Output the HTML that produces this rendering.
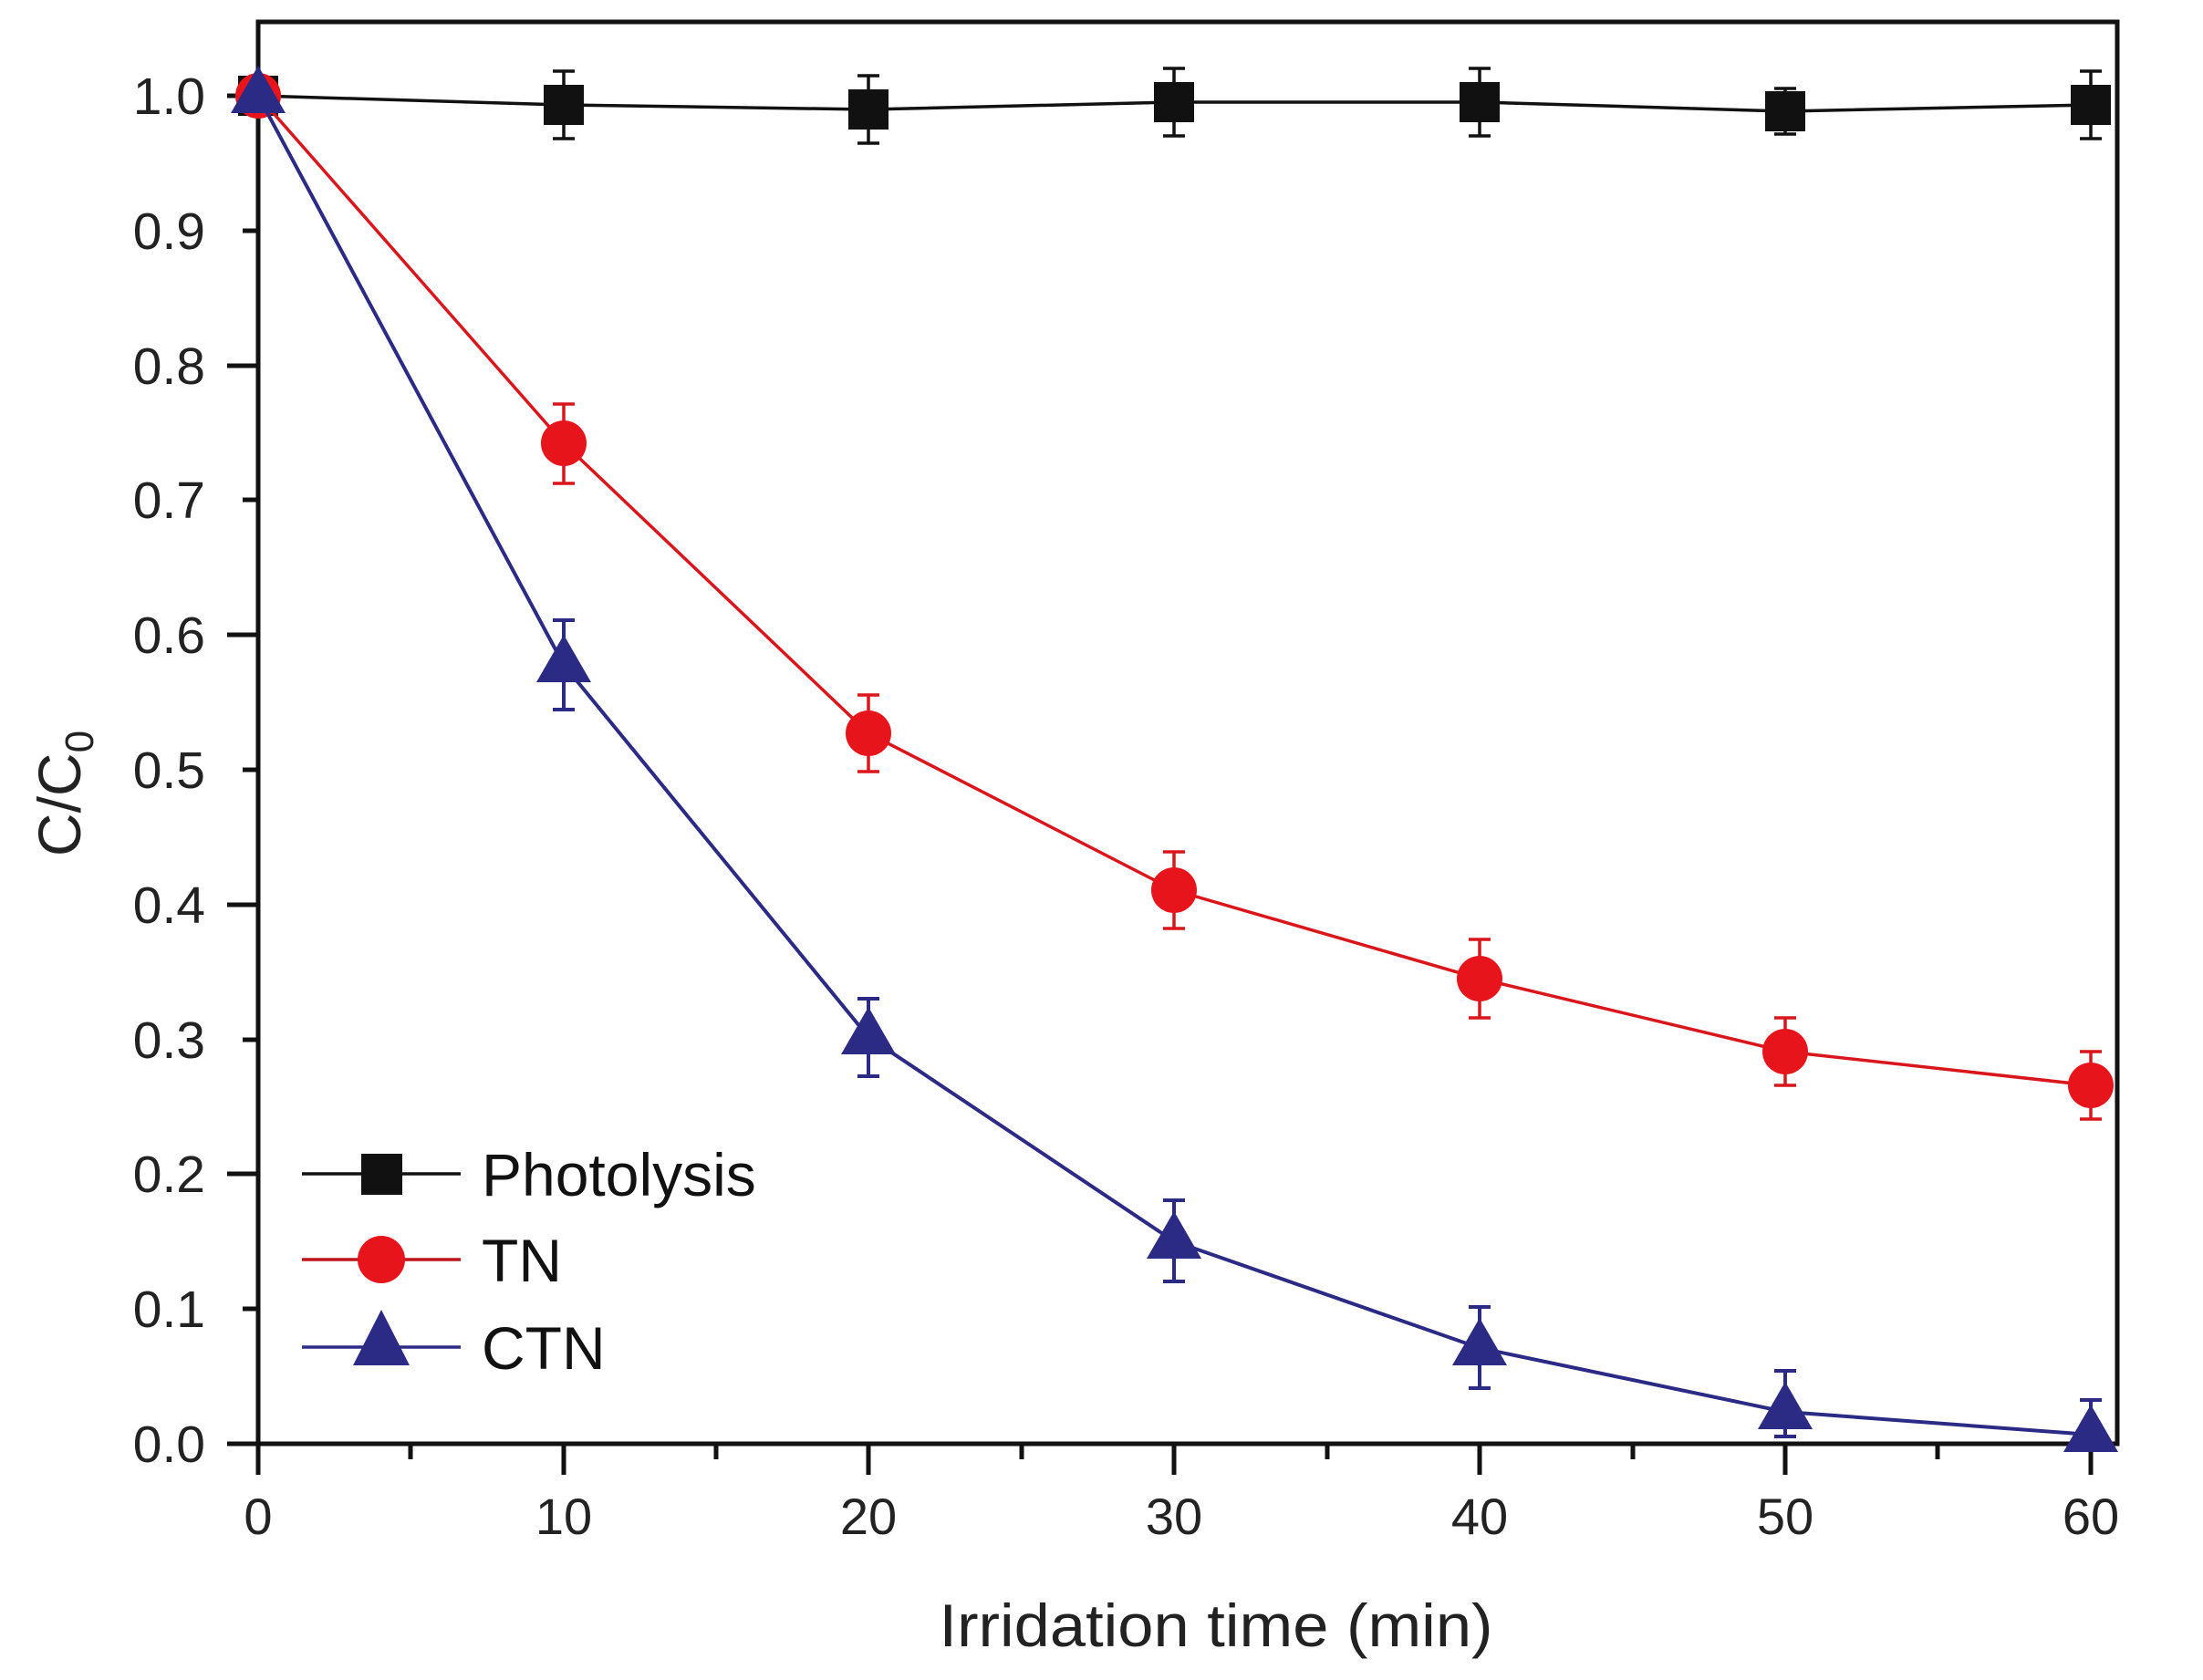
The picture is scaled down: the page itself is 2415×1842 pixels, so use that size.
<!DOCTYPE html>
<html><head><meta charset="utf-8"><style>
html,body{margin:0;padding:0;background:#fff;}
svg{display:block;font-family:"Liberation Sans",sans-serif;}
</style></head><body>
<svg width="2415" height="1842" viewBox="0 0 2415 1842" xmlns="http://www.w3.org/2000/svg">
<rect width="2415" height="1842" fill="#fff"/>
<g stroke="#111" stroke-width="5">
<line x1="283" y1="1583" x2="283" y2="1617"/>
<line x1="450" y1="1583" x2="450" y2="1600"/>
<line x1="618" y1="1583" x2="618" y2="1617"/>
<line x1="785" y1="1583" x2="785" y2="1600"/>
<line x1="952" y1="1583" x2="952" y2="1617"/>
<line x1="1120" y1="1583" x2="1120" y2="1600"/>
<line x1="1287" y1="1583" x2="1287" y2="1617"/>
<line x1="1455" y1="1583" x2="1455" y2="1600"/>
<line x1="1622" y1="1583" x2="1622" y2="1617"/>
<line x1="1790" y1="1583" x2="1790" y2="1600"/>
<line x1="1957" y1="1583" x2="1957" y2="1617"/>
<line x1="2124" y1="1583" x2="2124" y2="1600"/>
<line x1="2292" y1="1583" x2="2292" y2="1617"/>
<line x1="249" y1="1583" x2="283" y2="1583"/>
<line x1="266" y1="1435" x2="283" y2="1435"/>
<line x1="249" y1="1287" x2="283" y2="1287"/>
<line x1="266" y1="1140" x2="283" y2="1140"/>
<line x1="249" y1="992" x2="283" y2="992"/>
<line x1="266" y1="844" x2="283" y2="844"/>
<line x1="249" y1="696" x2="283" y2="696"/>
<line x1="266" y1="548" x2="283" y2="548"/>
<line x1="249" y1="401" x2="283" y2="401"/>
<line x1="266" y1="253" x2="283" y2="253"/>
<line x1="249" y1="105" x2="283" y2="105"/>
</g>
<rect x="283" y="24" width="2038" height="1559" fill="none" stroke="#111" stroke-width="5"/>
<g font-size="57" fill="#222" text-anchor="end">
<text x="225" y="1603">0.0</text>
<text x="225" y="1455">0.1</text>
<text x="225" y="1307">0.2</text>
<text x="225" y="1160">0.3</text>
<text x="225" y="1012">0.4</text>
<text x="225" y="864">0.5</text>
<text x="225" y="716">0.6</text>
<text x="225" y="568">0.7</text>
<text x="225" y="421">0.8</text>
<text x="225" y="273">0.9</text>
<text x="225" y="125">1.0</text>
</g>
<g font-size="56" fill="#222" text-anchor="middle">
<text x="283" y="1682">0</text>
<text x="618" y="1682">10</text>
<text x="952" y="1682">20</text>
<text x="1287" y="1682">30</text>
<text x="1622" y="1682">40</text>
<text x="1957" y="1682">50</text>
<text x="2292" y="1682">60</text>
</g>
<text x="1333" y="1805" font-size="66" fill="#222" text-anchor="middle" textLength="607" lengthAdjust="spacingAndGlyphs">Irridation time (min)</text>
<text transform="translate(88,870) rotate(-90)" font-size="66" fill="#222" text-anchor="middle">C/C<tspan font-size="44" dy="14">0</tspan></text>

<g stroke="#111" stroke-width="3.5" fill="none">
<polyline points="283,105 618,115 952,120 1287,112 1622,112 1957,122 2292,115"/>
<path d="M618,78V152M606,78H630M606,152H630 M952,83V157M940,83H964M940,157H964 M1287,75V149M1275,75H1299M1275,149H1299 M1622,75V149M1610,75H1634M1610,149H1634 M1957,97V147M1945,97H1969M1945,147H1969 M2292,78V152M2280,78H2304M2280,152H2304"/>
</g>
<g fill="#111">
<rect x="261" y="83" width="44" height="44"/>
<rect x="596" y="93" width="44" height="44"/>
<rect x="930" y="98" width="44" height="44"/>
<rect x="1265" y="90" width="44" height="44"/>
<rect x="1600" y="90" width="44" height="44"/>
<rect x="1935" y="100" width="44" height="44"/>
<rect x="2270" y="93" width="44" height="44"/>
</g>

<g stroke="#d9161c" stroke-width="3.5" fill="none">
<polyline points="283,105 618,486 952,804 1287,976 1622,1073 1957,1153 2292,1190"/>
<path d="M618,443V530M606,443H630M606,530H630 M952,762V846M940,762H964M940,846H964 M1287,934V1018M1275,934H1299M1275,1018H1299 M1622,1030V1116M1610,1030H1634M1610,1116H1634 M1957,1116V1190M1945,1116H1969M1945,1190H1969 M2292,1153V1227M2280,1153H2304M2280,1227H2304"/>
</g>
<g fill="#e8141b">
<circle cx="283" cy="105" r="25"/>
<circle cx="618" cy="486" r="25"/>
<circle cx="952" cy="804" r="25"/>
<circle cx="1287" cy="976" r="25"/>
<circle cx="1622" cy="1073" r="25"/>
<circle cx="1957" cy="1153" r="25"/>
<circle cx="2292" cy="1190" r="25"/>
</g>

<g stroke="#2b2a84" stroke-width="4" fill="none">
<polyline points="283,105 618,729 952,1137 1287,1361 1622,1478 1957,1548 2292,1573"/>
<path d="M618,680V778M606,680H630M606,778H630 M952,1095V1180M940,1095H964M940,1180H964 M1287,1316V1405M1275,1316H1299M1275,1405H1299 M1622,1433V1522M1610,1433H1634M1610,1522H1634 M1957,1503V1575M1945,1503H1969M1945,1575H1969 M2292,1535V1590M2280,1535H2304"/>
</g>
<g fill="#2b2a84">
<polygon points="283,72 313,124 253,124"/>
<polygon points="618,696 648,748 588,748"/>
<polygon points="952,1104 982,1156 922,1156"/>
<polygon points="1287,1328 1317,1380 1257,1380"/>
<polygon points="1622,1445 1652,1497 1592,1497"/>
<polygon points="1957,1515 1987,1567 1927,1567"/>
<polygon points="2292,1540 2322,1592 2262,1592"/>
</g>

<line x1="331" y1="1287" x2="505" y2="1287" stroke="#111" stroke-width="3.5"/>
<rect x="396" y="1265" width="45" height="45" fill="#111"/>
<text x="528" y="1311" font-size="66" fill="#111">Photolysis</text>
<line x1="331" y1="1381" x2="505" y2="1381" stroke="#c0141a" stroke-width="3.5"/>
<circle cx="418" cy="1381" r="26" fill="#e8141b"/>
<text x="528" y="1405" font-size="66" fill="#111">TN</text>
<line x1="331" y1="1477" x2="505" y2="1477" stroke="#2b2a84" stroke-width="3.5"/>
<polygon points="418,1436 449,1497 387,1497" fill="#2b2a84"/>
<text x="528" y="1501" font-size="66" fill="#111">CTN</text>
</svg>
</body></html>
